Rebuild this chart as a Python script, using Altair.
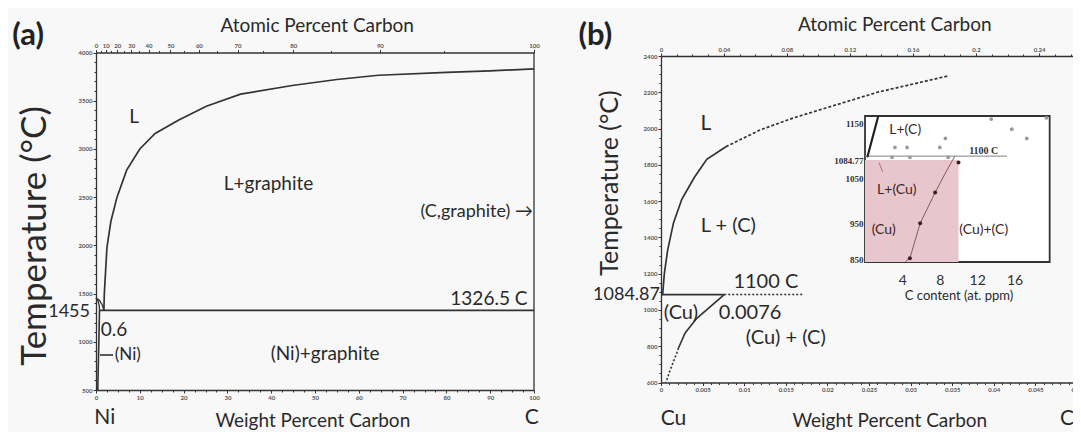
import json
import altair as alt
import pandas as pd

# ------------------------------------------------------------------ data
# molar masses used for the atomic-% top axes
M_C, M_NI, M_CU = 12.011, 58.693, 63.546

# ---- (a) Ni-C : weight % C vs temperature (deg C)
a_liq_wt = [1.8, 1.9, 2.5, 3.4, 4.8, 7.0, 10.0, 13.5, 18.9, 25.2, 33.0, 44.8, 55.0, 64.5, 80.0, 90.0, 100.0]
a_liq_T = [1326.5, 1500, 1980, 2250, 2500, 2780, 3000, 3160, 3300, 3443, 3568, 3658, 3720, 3764, 3793, 3810, 3830]
a_niliq_wt = [0.0, 0.8, 1.4, 1.8]
a_niliq_T = [1455, 1430, 1385, 1326.5]
a_nisol_wt = [0.0, 0.5, 0.75, 0.8]
a_nisol_T = [1455, 1420, 1370, 1326.5]
a_solv_wt = [0.8, 0.7, 0.55, 0.4]
a_solv_T = [1326.5, 1100, 800, 500]
a_eut_wt = [0.8, 100.0]
a_eut_T = [1326.5, 1326.5]
a_dash_wt = [0.9, 3.9]
a_dash_T = [863, 863]

a_lab = ["L", "L+graphite", "1326.5 C", "0.6", "(Ni)+graphite"]
a_lab_wt = [8.7, 39.4, 89.7, 4.1, 52.3]
a_lab_T = [3331, 2632, 1444, 1122, 873]

a_y_ticks = [500, 1000, 1500, 2000, 2500, 3000, 3500, 4000]
a_x_ticks = [0, 10, 20, 30, 40, 50, 60, 70, 80, 90, 100]
a_at_ticks = [0, 10, 20, 30, 40, 50, 60, 70, 80, 90, 100]

# ---- (b) Cu-C
b_liq_wt = [0.0002, 0.0004, 0.0008, 0.0015, 0.0025, 0.0040, 0.0055, 0.0078]
b_liq_T = [1084.87, 1200, 1330, 1480, 1610, 1730, 1830, 1900]
b_liqd_wt = [0.0078, 0.0119, 0.0160, 0.0198, 0.0260, 0.0345]
b_liqd_T = [1900, 1992, 2060, 2113, 2200, 2290]
b_eut_wt = [0.0, 0.0076]
b_eut_T = [1084.87, 1084.87]
b_eutd_wt = [0.0076, 0.0170]
b_eutd_T = [1084.87, 1084.87]
b_solv_wt = [0.0076, 0.0043, 0.0029, 0.0021]
b_solv_T = [1084.87, 954, 873, 790]
b_solvd_wt = [0.0021, 0.0019, 0.0011, 0.0007, 0.0006]
b_solvd_T = [790, 763, 669, 614, 600]

b_lab = ["L + (C)", "1100 C", "(Cu)", "0.0076", "(Cu) + (C)"]
b_lab_wt = [0.0081, 0.0126, 0.0024, 0.0107, 0.0150]
b_lab_T = [1463, 1154, 983, 983, 845]

b_y_ticks = [600, 800, 1000, 1200, 1400, 1600, 1800, 2000, 2200, 2400]
b_x_ticks = [0, 0.005, 0.01, 0.015, 0.02, 0.025, 0.03, 0.035, 0.04, 0.045, 0.05]
b_at_ticks = [0, 0.04, 0.08, 0.12, 0.16, 0.2, 0.24]

# ---- inset: C content (at. ppm) vs temperature
i_box_ppm = [0.0, 19.75]
i_box_T = [843.6, 1162]
i_pink_ppm = [0.0, 10.0]
i_pink_T = [843.6, 1084.77]
i_solv_ppm = [4.3, 4.8, 5.9, 7.5, 8.6, 9.6]
i_solv_T = [843.6, 855, 950, 1020, 1060, 1092]
i_meas_ppm = [4.8, 5.9, 7.5, 10.0]
i_meas_T = [855, 950, 1020, 1080]
i_grey_ppm = [3.2, 4.5, 8.0, 8.6, 13.5, 15.7, 17.3, 19.4, 2.9, 4.8, 8.9]
i_grey_T = [1108, 1108, 1108, 1124, 1157, 1140, 1124, 1159, 1090, 1090, 1090]
i_liq_ppm = [0.25, 1.42]
i_liq_T = [1090, 1162]
i_curl_ppm = [1.5, 1.9]
i_curl_T = [1080, 1062]
i_line_ppm = [0.0, 15.2]
i_line_T = [1092, 1092]
i_lab = ["L+(C)", "L+(Cu)", "(Cu)", "(Cu)+(C)"]
i_lab_ppm = [4.3, 3.4, 2.0, 12.7]
i_lab_T = [1138, 1025, 933, 933]
i_x_ticks = [4, 8, 12, 16]
i_y_ticks = [850, 950, 1050, 1084.77, 1150]

# ------------------------------------------------------------------ layout
W, H = 1065, 424
A_X, A_Y = [88, 526], [382, 44.5]
B_X, B_Y = [653, 1069], [374.5, 48]
I_X, I_Y = [857, 1044], [254, 108]
FONT = "Lato"
INK = "#2a2a2a"


def sc(domain, rng, **kw):
    return alt.Scale(domain=domain, range=rng, nice=False, zero=False, **kw)


SC = {
    "a": (sc([0, 100], A_X), sc([500, 4000], A_Y)),
    "b": (sc([0, 0.05], B_X), sc([600, 2400], B_Y)),
    "i": (sc([0, 20], I_X), sc([843.6, 1162], I_Y, type="pow", exponent=3)),
}


def xy(p, xf="x", yf="y"):
    sx, sy = SC[p]
    return dict(x=alt.X(xf, type="quantitative", scale=sx, axis=None),
                y=alt.Y(yf, type="quantitative", scale=sy, axis=None))


def line(p, xs, ys, **mk):
    df = pd.DataFrame({"x": xs, "y": ys, "o": list(range(len(xs)))})
    mk.setdefault("color", "#333333")
    mk.setdefault("strokeWidth", 1.7)
    return alt.Chart(df).mark_line(**mk).encode(order="o:Q", **xy(p))


def text(p, labels, xs, ys, **mk):
    df = pd.DataFrame({"t": labels, "x": xs, "y": ys})
    mk.setdefault("font", FONT)
    mk.setdefault("color", INK)
    mk.setdefault("baseline", "middle")
    return alt.Chart(df).mark_text(**mk).encode(text="t:N", **xy(p))


def dots(p, xs, ys, **mk):
    df = pd.DataFrame({"x": xs, "y": ys})
    return alt.Chart(df).mark_circle(**mk).encode(**xy(p))


def ax(orient, offset, values, **kw):
    base = dict(orient=orient, offset=offset, values=values, grid=False, title=None,
                domainColor="#333333", domainWidth=1.3, tickColor="#333333", tickSize=3,
                labelFont=FONT, labelFontSize=6, labelFontWeight="bold", labelColor="#555555",
                labelPadding=1, labelOverlap=False, labelFlush=False)
    base.update(kw)
    return alt.Axis(**base)


def axis_layer(p, ch, values, axis):
    sx, sy = SC[p]
    df = pd.DataFrame({"v": values})
    if ch == "x":
        enc = dict(x=alt.X("v:Q", scale=sx, axis=axis))
    else:
        enc = dict(y=alt.Y("v:Q", scale=sy, axis=axis))
    return alt.Chart(df).mark_point(opacity=0).encode(**enc)


def at_to_wt(at, m):
    return 100 * M_C * at / (M_C * at + m * (100 - at))


def top_axis(p, at_ticks, m, offset, digits):
    wts = [round(at_to_wt(a, m), digits) for a in at_ticks]
    labs = [format(a, "g") for a in at_ticks]
    expr = f"{json.dumps(labs)}[indexof({json.dumps(wts)}, datum.value)]"
    return axis_layer(p, "x", wts, ax("top", offset, wts, labelExpr=expr))


def minor(p, ch, orient, offset, values):
    return axis_layer(p, ch, values, ax(orient, offset, values, labels=False, domain=False, tickSize=2))


layers = []

# ---------------- (a) axes
layers += [
    axis_layer("a", "y", a_y_ticks, ax("left", -A_X[0], a_y_ticks, format="d")),
    axis_layer("a", "x", a_x_ticks, ax("bottom", A_Y[0] - H, a_x_ticks, format="d")),
    top_axis("a", a_at_ticks, M_NI, -A_Y[1], 3),
    minor("a", "y", "left", -A_X[0], [v for v in range(500, 4001, 100) if v % 500]),
    minor("a", "x", "bottom", A_Y[0] - H, [v / 2 for v in range(0, 201, 5) if v % 20]),
    minor("a", "x", "top", -A_Y[1], [round(at_to_wt(a, M_NI), 3) for a in range(0, 101, 5) if a % 10]),
]
frame_a = alt.Chart(pd.DataFrame({"x": [100], "y": [500], "y2": [4000]})).mark_rule(
    color="#333333", strokeWidth=1.3).encode(y2="y2:Q", **xy("a"))
layers.append(frame_a)

# ---------------- (a) curves
layers += [
    line("a", a_liq_wt, a_liq_T),
    line("a", a_niliq_wt, a_niliq_T, strokeWidth=1.3),
    line("a", a_nisol_wt, a_nisol_T, strokeWidth=1.3),
    line("a", a_solv_wt, a_solv_T, strokeWidth=1.6),
    line("a", a_eut_wt, a_eut_T, strokeWidth=1.8),
    line("a", a_dash_wt, a_dash_T, strokeWidth=1.6),
]

# ---------------- (a) texts
layers += [
    text("a", a_lab, a_lab_wt, a_lab_T, fontSize=19),
    text("a", ["(C,graphite) \u2192"], [100], [2346], fontSize=18, align="right", dx=-1),
    text("a", ["1455"], [0], [1309], fontSize=18, align="right", dx=-6),
    text("a", ["(Ni)"], [4.3], [863], fontSize=17, align="left"),
    text("a", ["Ni", "C"], [2.0, 99.5], [145, 145], fontSize=21, baseline="alphabetic"),
    text("a", ["Weight Percent Carbon"], [49.5], [115], fontSize=19, baseline="alphabetic"),
    text("a", ["Atomic Percent Carbon"], [50.5], [4275], fontSize=19),
    text("a", ["(a)"], [-15.5], [4171], fontSize=31, fontWeight="bold", color="#222222"),
    text("a", ["Temperature (\u00b0C)"], [-14.0], [2097], fontSize=35, angle=270),
]

# ---------------- (b) axes
layers += [
    axis_layer("b", "y", b_y_ticks, ax("left", -B_X[0], b_y_ticks, format="d")),
    axis_layer("b", "x", b_x_ticks, ax("bottom", B_Y[0] - H, b_x_ticks, format="~g")),
    top_axis("b", b_at_ticks, M_CU, -B_Y[1], 7),
    minor("b", "y", "left", -B_X[0], [v for v in range(600, 2401, 50) if v % 200]),
    minor("b", "x", "bottom", B_Y[0] - H, [v / 1000 for v in range(0, 51) if v % 5]),
    minor("b", "x", "top", -B_Y[1], [round(at_to_wt(a / 100, M_CU), 7) for a in range(0, 29) if a % 4]),
]

# ---------------- (b) curves
layers += [
    line("b", b_liq_wt, b_liq_T, strokeWidth=1.7),
    line("b", b_liqd_wt, b_liqd_T, strokeWidth=1.7, strokeDash=[3, 2]),
    line("b", b_eut_wt, b_eut_T, strokeWidth=1.8),
    line("b", b_eutd_wt, b_eutd_T, strokeWidth=1.6, strokeDash=[2, 2]),
    line("b", b_solv_wt, b_solv_T, strokeWidth=1.6),
    line("b", b_solvd_wt, b_solvd_T, strokeWidth=1.6, strokeDash=[2, 2]),
]

# ---------------- (b) texts
layers += [
    text("b", ["L"], [0.0054], [2025], fontSize=21),
    text("b", b_lab, b_lab_wt, b_lab_T, fontSize=20),
    text("b", ["1084.87"], [0], [1084.87], fontSize=18, align="right", dx=-1),
    text("b", ["Cu", "C"], [0.0015, 0.0488], [366, 366], fontSize=21, baseline="alphabetic"),
    text("b", ["Weight Percent Carbon"], [0.0275], [355], fontSize=19, baseline="alphabetic"),
    text("b", ["Atomic Percent Carbon"], [0.0281], [2571], fontSize=19),
    text("b", ["(b)"], [-0.0079], [2510], fontSize=31, fontWeight="bold", color="#222222"),
    text("b", ["Temperature (\u00b0C)"], [-0.0061], [1700], fontSize=25, angle=270),
]

# ---------------- inset
box = alt.Chart(pd.DataFrame({"x": [i_box_ppm[0]], "x2": [i_box_ppm[1]],
                              "y": [i_box_T[0]], "y2": [i_box_T[1]]})).mark_rect(
    fill="white", stroke="#333333", strokeWidth=1.8).encode(x2="x2:Q", y2="y2:Q", **xy("i"))
pink = alt.Chart(pd.DataFrame({"x": [i_pink_ppm[0]], "x2": [i_pink_ppm[1]],
                               "y": [i_pink_T[0]], "y2": [i_pink_T[1]]})).mark_rect(
    fill="#e8c6cd").encode(x2="x2:Q", y2="y2:Q", **xy("i"))
layers += [
    box,
    pink,
    axis_layer("i", "y", i_y_ticks, ax("left", -I_X[0], i_y_ticks, format=".2~f", tickSize=0, domain=False,
                                         labelFont="Liberation Serif", labelFontSize=9, labelColor="#333333",
                                         labelPadding=2)),
    axis_layer("i", "x", i_x_ticks, ax("bottom", I_Y[0] - H, i_x_ticks, format="d", tickSize=0, domain=False,
                                         labelFontSize=14, labelColor="#333333", labelFontWeight="normal",
                                         labelPadding=11, title="C content (at. ppm)", titleFont=FONT,
                                         titleFontSize=13, titleFontWeight="normal", titleColor=INK,
                                         titlePadding=2)),
    line("i", i_line_ppm, i_line_T, color="#9a9a9a", strokeWidth=1.2),
    line("i", i_solv_ppm, i_solv_T, color="#8a5a5a", strokeWidth=1.0),
    line("i", i_liq_ppm, i_liq_T, color="#222222", strokeWidth=2.2),
    line("i", i_curl_ppm, i_curl_T, color="#9a7a7a", strokeWidth=1.0),
    dots("i", i_grey_ppm, i_grey_T, color="#999999", size=14, opacity=1),
    dots("i", i_meas_ppm, i_meas_T, color="#3a2020", size=16, opacity=1),
    text("i", i_lab, i_lab_ppm, i_lab_T, fontSize=14, color="#3b2626"),
    text("i", ["1100 C"], [12.7], [1101], fontSize=10, fontWeight="bold", font="Liberation Serif",
         color="#333333"),
]

chart = alt.layer(*layers).resolve_scale(x="independent", y="independent").properties(
    width=W, height=H, autosize=alt.AutoSizeParams(type="none"), padding=0,
    background="#f8f8f8",
).configure_view(stroke=None)

chart.save("out.html", embed_options={"renderer": "svg", "actions": False})
